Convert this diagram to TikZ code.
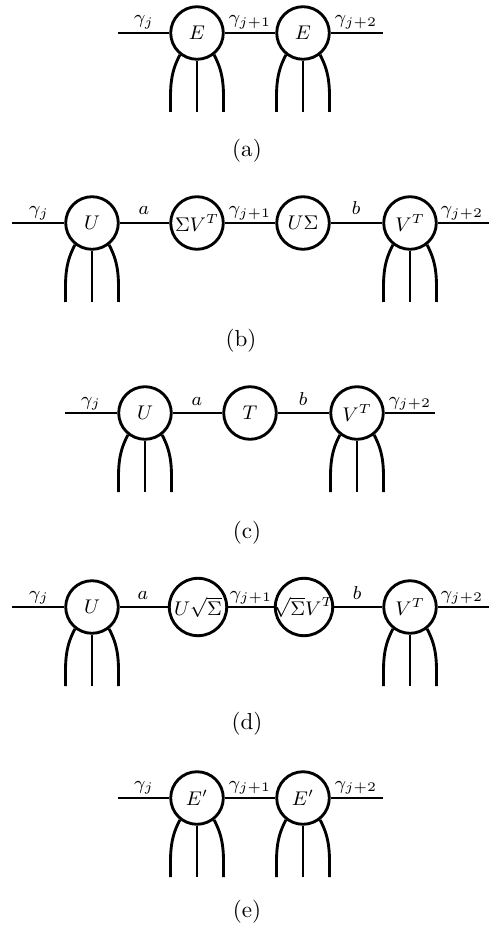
\RequirePackage{fix-cm}
\documentclass[tikz,border=0pt]{standalone}
\usetikzlibrary{calc}
\tikzset{
  wire/.style={line width=1.3pt},
  tensor/.style={circle,draw,line width=1.3pt,minimum size=23.9pt,inner sep=0pt,font=\fontsize{9}{11}\selectfont},
  bigtensor/.style={tensor,minimum size=26.1pt,inner sep=-2pt},
  lbl/.style={anchor=base,inner sep=0pt,font=\fontsize{8.5}{10}\selectfont},
  capt/.style={anchor=center,inner sep=0pt,font=\fontsize{10.5}{12}\selectfont}
}
\newcommand\tlegs[1]{%
  \coordinate (#1-l) at ($(#1.center)+(-26.5,-79)$);
  \coordinate (#1-m) at ($(#1.center)+(0,-79)$);
  \coordinate (#1-r) at ($(#1.center)+(26.5,-79)$);
  \draw[wire] (#1.-128) to[out=-118,in=90] (#1-l);
  \draw[wire] (#1.south) -- (#1-m);
  \draw[wire] (#1.-52) to[out=-62,in=90] (#1-r);
}
\begin{document}
\begin{tikzpicture}[x=0.4545pt,y=0.4545pt]
\useasboundingbox (0,0) rectangle (496,-933);
% (a)
\coordinate (aL) at (118,-33); \coordinate (aR) at (383,-33);
\node[tensor] (aE1) at (197,-33) {$E$};
\node[tensor] (aE2) at (303,-33) {$E$};
\draw[wire] (aL) -- (aE1) -- (aE2) -- (aR);
\tlegs{aE1}\tlegs{aE2}
\node[lbl] (al1) at (144,-24) {$\gamma_j$};
\node[lbl] (al2) at (250,-24) {$\gamma_{j+1}$};
\node[lbl] (al3) at (356,-24) {$\gamma_{j+2}$};
\node[capt] (ca) at (247,-151) {(a)};
% (b)
\coordinate (bL) at (12,-223); \coordinate (bR) at (489,-223);
\node[tensor] (bU) at (92,-223) {$U$};
\node[tensor] (bS) at (197,-223) {$\Sigma V^T$};
\node[tensor] (bUS) at (303,-223) {$U\Sigma$};
\node[tensor] (bV) at (410,-223) {$V^T$};
\draw[wire] (bL) -- (bU) -- (bS) -- (bUS) -- (bV) -- (bR);
\tlegs{bU}\tlegs{bV}
\node[lbl] (bl1) at (39,-215) {$\gamma_j$};
\node[lbl] (bl2) at (144,-215) {$a$};
\node[lbl] (bl3) at (250,-215) {$\gamma_{j+1}$};
\node[lbl] (bl4) at (356,-215) {$b$};
\node[lbl] (bl5) at (462,-215) {$\gamma_{j+2}$};
\node[capt] (cb) at (241,-341) {(b)};
% (c)
\coordinate (cL) at (65,-413); \coordinate (cR) at (435,-413);
\node[tensor] (cU) at (145,-413) {$U$};
\node[tensor] (cT) at (250,-413) {$T$};
\node[tensor] (cV) at (357,-413) {$V^T$};
\draw[wire] (cL) -- (cU) -- (cT) -- (cV) -- (cR);
\tlegs{cU}\tlegs{cV}
\node[lbl] (cl1) at (91,-405) {$\gamma_j$};
\node[lbl] (cl2) at (197,-405) {$a$};
\node[lbl] (cl3) at (303,-405) {$b$};
\node[lbl] (cl4) at (410,-405) {$\gamma_{j+2}$};
\node[capt] (cc) at (247,-533) {(c)};
% (d)
\coordinate (dL) at (12,-607); \coordinate (dR) at (489,-607);
\node[tensor] (dU) at (92,-607) {$U$};
\node[bigtensor] (dUS) at (198,-607) {$U\sqrt{\Sigma}$};
\node[bigtensor] (dSV) at (304,-607) {$\sqrt{\Sigma}V^T$};
\node[tensor] (dV) at (410,-607) {$V^T$};
\draw[wire] (dL) -- (dU) -- (dUS) -- (dSV) -- (dV) -- (dR);
\tlegs{dU}\tlegs{dV}
\node[lbl] (dl1) at (39,-599) {$\gamma_j$};
\node[lbl] (dl2) at (143,-599) {$a$};
\node[lbl] (dl3) at (251,-599) {$\gamma_{j+1}$};
\node[lbl] (dl4) at (357,-599) {$b$};
\node[lbl] (dl5) at (462,-599) {$\gamma_{j+2}$};
\node[capt] (cd) at (247,-724) {(d)};
% (e)
\coordinate (eL) at (118,-798); \coordinate (eR) at (383,-798);
\node[tensor] (eE1) at (197,-798) {$E'$};
\node[tensor] (eE2) at (303,-798) {$E'$};
\draw[wire] (eL) -- (eE1) -- (eE2) -- (eR);
\tlegs{eE1}\tlegs{eE2}
\node[lbl] (el1) at (144,-789) {$\gamma_j$};
\node[lbl] (el2) at (250,-789) {$\gamma_{j+1}$};
\node[lbl] (el3) at (356,-789) {$\gamma_{j+2}$};
\node[capt] (ce) at (247,-912) {(e)};
\end{tikzpicture}
\end{document}
